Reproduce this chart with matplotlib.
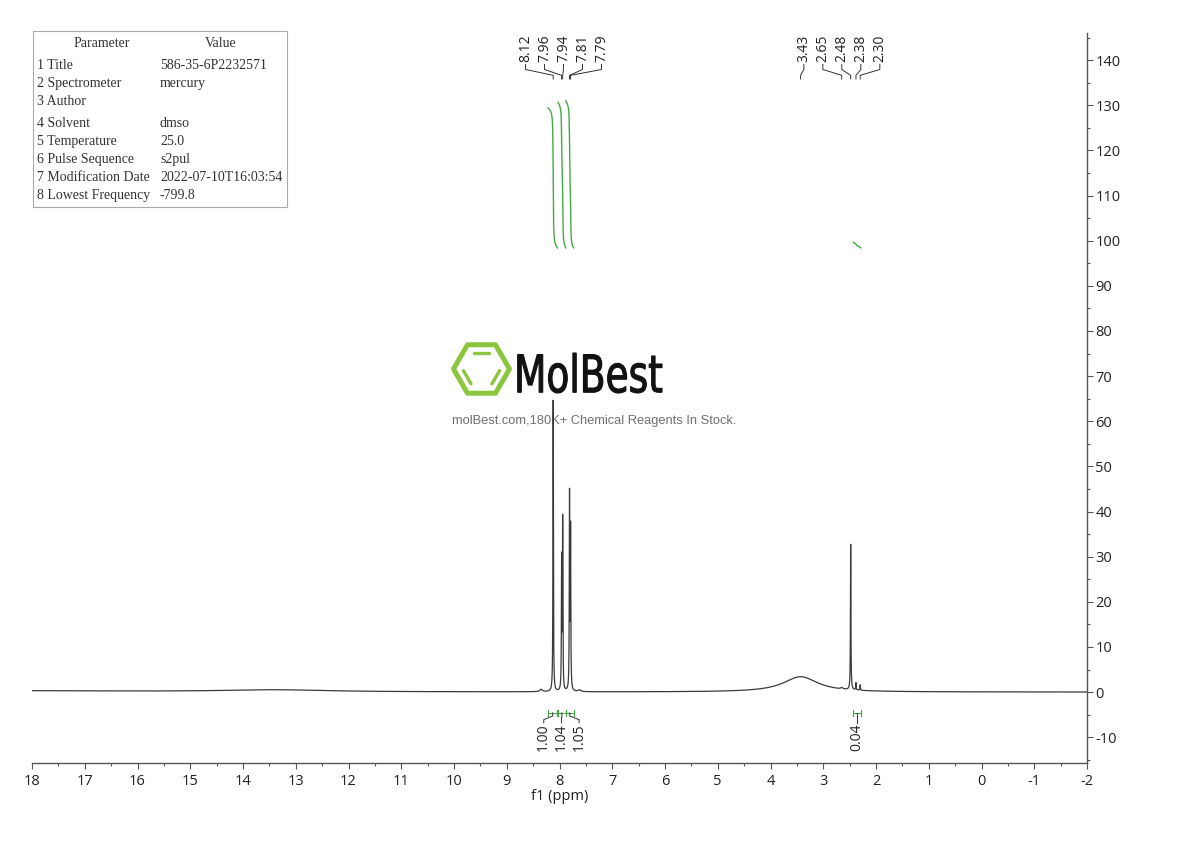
import numpy as np
import matplotlib
matplotlib.use("Agg")
import matplotlib.pyplot as plt
import matplotlib.transforms as mtransforms
from matplotlib.patches import Rectangle, PathPatch, Polygon
from matplotlib.path import Path
from matplotlib.textpath import TextPath
from matplotlib.font_manager import FontProperties
from matplotlib.ticker import MultipleLocator

plt.rcParams['axes.unicode_minus'] = False
plt.rcParams['font.family'] = ['Open Sans', 'DejaVu Sans']

# ---- spectrum peaks (ppm, height, half width) ----
peak_ppm = [8.35, 8.12, 7.96, 7.94, 7.81, 7.79, 7.62, 3.43, 2.65, 2.48, 2.38, 2.30]
peak_height = [0.5, 64.5, 28.6, 37.5, 42.9, 35.2, 0.4, 3.4, 0.3, 32.2, 1.6, 1.2]
peak_hwhm = [0.03, 0.005, 0.005, 0.005, 0.005, 0.005, 0.03, 0.40, 0.02, 0.005, 0.005, 0.005]

# slow baseline humps
base_ppm = [18.5, 13.4]
base_height = [0.3, 0.45]
base_hwhm = [3.0, 1.2]

# peak picking labels
label_ppm = [8.12, 7.96, 7.94, 7.81, 7.79, 3.43, 2.65, 2.48, 2.38, 2.30]

# integrations
int_start = [8.22, 8.03, 7.88, 2.43]
int_end = [8.04, 7.88, 7.73, 2.29]
int_value = [1.00, 1.04, 1.05, 0.04]

# parameter table
param_names = ["1 Title", "2 Spectrometer", "3 Author", "4 Solvent", "5 Temperature",
               "6 Pulse Sequence", "7 Modification Date", "8 Lowest Frequency"]
param_values = ["586-35-6P2232571", "mercury", "", "dmso", "25.0", "s2pul",
                "2022-07-10T16:03:54", "-799.8"]

# ---- build spectrum ----
x = np.linspace(18, -2, 40001)
y = np.zeros_like(x)
for c, h, w in zip(base_ppm + peak_ppm, base_height + peak_height, base_hwhm + peak_hwhm):
    y += h / (1 + ((x - c) / w) ** 2)

fig = plt.figure(figsize=(11.9, 8.41), dpi=100)

# overlay in pixel coords for table + watermark
ov = fig.add_axes([0, 0, 1, 1], zorder=0)
ov.set_xlim(0, 1190)
ov.set_ylim(841, 0)
ov.axis('off')

ax = fig.add_axes([32 / 1190, 1 - 763 / 841, (1087 - 32) / 1190, (763 - 33) / 841], zorder=1)
ax.patch.set_alpha(0)

ax.plot(x, y, color='#3a3a3a', lw=0.9)
ax.set_xlim(18, -2)
ax.set_ylim(-15.7, 146)

# integral curves + brackets
green = '#45a845'
int_base = 98.4
int_scale = 31.0
int_centers = []
for a, b, v in zip(int_start, int_end, int_value):
    m = (x <= a) & (x >= b)
    xs, ys = x[m], y[m]
    cum = np.cumsum(ys[::-1])[::-1]
    cum = (cum - cum.min()) / (cum.max() - cum.min())
    ax.plot(xs, int_base + int_scale * v * cum, color=green, lw=1.0)
    # bracket below the baseline
    yb = -4.6
    ax.plot([a, b], [yb, yb], color=green, lw=0.8)
    ax.plot([a, a], [yb - 0.7, yb + 0.7], color=green, lw=0.8)
    ax.plot([b, b], [yb - 0.7, yb + 0.7], color=green, lw=0.8)
    int_centers.append((a + b) / 2)

# integration labels, spread around cluster centers
def clusters(vals, gap=1.0):
    groups, cur = [], [0]
    for i in range(1, len(vals)):
        if abs(vals[i] - vals[i - 1]) > gap:
            groups.append(cur)
            cur = []
        cur.append(i)
    groups.append(cur)
    return groups

step_int = 0.335
for g in clusters(int_centers):
    mean = np.mean([int_centers[i] for i in g])
    n = len(g)
    for k, i in enumerate(g):
        lx = mean - (k - (n - 1) / 2) * step_int
        px = int_centers[i]
        ax.plot([px, px, lx, lx], [-4.6, -5.3, -6.1, -6.8], color='#333', lw=0.7)
        ax.text(lx, -7.0, f"{int_value[i]:.2f}", rotation=90, ha='center', va='top',
                fontsize=10, color='#222')

# peak labels at top
trans = mtransforms.blended_transform_factory(ax.transData, ax.transAxes)
step_lab = 0.36
for g in clusters(label_ppm):
    mean = np.mean([label_ppm[i] for i in g])
    n = len(g)
    for k, i in enumerate(g):
        lx = mean - (k - (n - 1) / 2) * step_lab
        px = label_ppm[i]
        ax.plot([lx, lx, px, px], [0.957, 0.950, 0.942, 0.937], color='#333', lw=0.7,
                transform=trans, clip_on=False)
        ax.text(lx, 0.960, f"{label_ppm[i]:.2f}", rotation=90, ha='center', va='bottom',
                fontsize=10, color='#222', transform=trans)

# axes styling
for s in ['top', 'left']:
    ax.spines[s].set_visible(False)
for s in ['bottom', 'right']:
    ax.spines[s].set_color('#555')
    ax.spines[s].set_linewidth(1.0)
ax.yaxis.tick_right()
ax.xaxis.set_major_locator(MultipleLocator(1))
ax.xaxis.set_minor_locator(MultipleLocator(0.5))
ax.yaxis.set_major_locator(MultipleLocator(10))
ax.yaxis.set_minor_locator(MultipleLocator(5))
ax.set_yticks(np.arange(-10, 141, 10))
ax.tick_params(axis='x', which='major', direction='out', length=4, width=0.8, color='#555',
               labelsize=10.5, pad=4, labelcolor='#222')
ax.tick_params(axis='x', which='minor', direction='out', length=2.5, width=0.8, color='#555')
ax.tick_params(axis='y', which='major', direction='out', length=4, width=0.8, color='#555',
               labelsize=10.5, pad=2, labelcolor='#222')
ax.tick_params(axis='y', which='minor', direction='out', length=2.5, width=0.8, color='#555')
ax.set_xlabel("f1 (ppm)", fontsize=10.5, color='#222', labelpad=0)

# ---- parameter table ----
ov.add_patch(Rectangle((33, 31), 254, 176, fill=False, edgecolor='#aaaaaa', lw=0.8))
tfont = dict(family='Liberation Serif', fontsize=10, color='#333')
ov.text(102, 43, "Parameter", ha='center', va='center', **tfont)
ov.text(221, 43, "Value", ha='center', va='center', **tfont)
row_y = [65, 83, 101, 123, 141, 159, 177, 195]
for ry, nm, val in zip(row_y, param_names, param_values):
    ov.text(37, ry, nm, ha='left', va='center', **tfont)
    ov.text(160, ry, val, ha='left', va='center', **tfont)

# ---- watermark ----
lg = '#8cc63f'
cx, cy, R = 481.5, 369, 28
ang = np.deg2rad(np.arange(0, 360, 60))
hx = cx + R * np.cos(ang)
hy = cy - R * np.sin(ang)
ov.add_patch(Polygon(np.column_stack([hx, hy]), closed=True, fill=False, edgecolor=lg,
                     lw=3.6, joinstyle='round'))
r = 19
ix = cx + r * np.cos(ang)
iy = cy - r * np.sin(ang)
for e in [1, 3, 5]:
    p1 = np.array([ix[e], iy[e]])
    p2 = np.array([ix[(e + 1) % 6], iy[(e + 1) % 6]])
    a1 = p1 + 0.1 * (p2 - p1)
    a2 = p1 + 0.9 * (p2 - p1)
    ov.plot([a1[0], a2[0]], [a1[1], a2[1]], color=lg, lw=2.4, solid_capstyle='round')

tp = TextPath((0, 0), "MolBest", size=100, prop=FontProperties(family='DejaVu Sans'))
v = tp.vertices.copy()
x0, x1 = v[:, 0].min(), v[:, 0].max()
y0, y1 = v[:, 1].min(), v[:, 1].max()
nv = np.column_stack([514 + (v[:, 0] - x0) / (x1 - x0) * 148,
                      393 - (v[:, 1] - y0) / (y1 - y0) * 40])
ov.add_patch(PathPatch(Path(nv, tp.codes), facecolor='#111111', edgecolor='#111111', lw=0.8))
ov.text(594, 421, "molBest.com,180K+ Chemical Reagents In Stock.", ha='center', va='center',
        fontsize=9.3, color='#707070', family='Liberation Sans')

fig.savefig("out.png", dpi=100)
